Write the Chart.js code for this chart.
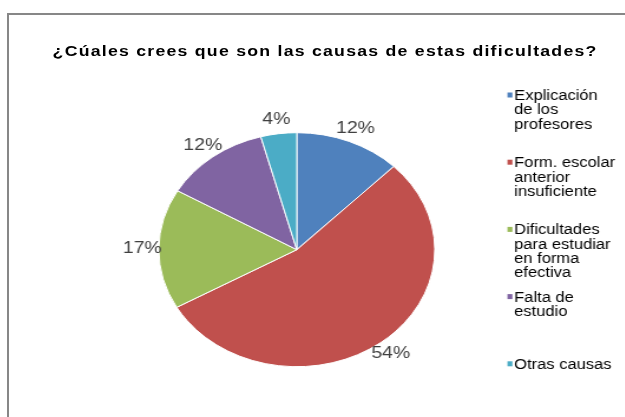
<!DOCTYPE html>
<html>
<head>
<meta charset="utf-8">
<script src="https://cdn.jsdelivr.net/npm/chart.js@4.4.1/dist/chart.umd.min.js"></script>
<style>
  html, body { margin: 0; padding: 0; width: 625px; height: 417px; overflow: hidden; background: #fff; }
  .frame { position: absolute; left: 7px; top: 13px; width: 700px; height: 500px; border: 2px solid #878787; }
  /* the reference is an Excel chart stretched sideways, so the whole drawing is stretched the same way */
  .stage { position: absolute; left: 9px; top: 15px; width: 536px; height: 402px; transform: scaleX(1.1795); transform-origin: 0 0; }
  .title { position: absolute; left: 0; top: 28px; width: 536px; text-align: center; white-space: nowrap;
           font: bold 15px "Liberation Sans", Arial, sans-serif; line-height: 15px; letter-spacing: 1.05px; color: #000; }
  canvas { position: absolute; left: 0; top: 0; }
</style>
</head>
<body>
<div class="frame"></div>
<div class="stage">
  <div class="title">¿Cúales crees que son las causas de estas dificultades?</div>
  <canvas id="chart" width="536" height="402"></canvas>
</div>
<script>
const categories = [
  ['Explicación', 'de los', 'profesores'],
  ['Form. escolar', 'anterior', 'insuficiente'],
  ['Dificultades', 'para estudiar', 'en forma', 'efectiva'],
  ['Falta de', 'estudio'],
  ['Otras causas']
]
const shares = [12.4, 54.4, 16.6, 12.4, 4.2]
const colors = ['#4F81BD', '#C0504D', '#9BBB59', '#8064A2', '#4BACC6']

// percent labels outside the slices + Excel style legend with wrapped entries
const excelParts = {
  id: 'excelParts',
  afterDatasetsDraw(chart, args, opts) {
    const ctx = chart.ctx
    const values = chart.data.datasets[0].data
    const total = values.reduce((a, b) => a + b, 0)
    ctx.save()
    ctx.font = '16.5px "Liberation Sans", Arial, sans-serif'
    ctx.fillStyle = '#404040'
    ctx.textAlign = 'center'
    ctx.textBaseline = 'middle'
    chart.getDatasetMeta(0).data.forEach((arc, i) => {
      const { x, y, startAngle, endAngle, outerRadius } =
        arc.getProps(['x', 'y', 'startAngle', 'endAngle', 'outerRadius'], true)
      const mid = (startAngle + endAngle) / 2
      const d = outerRadius + opts.gap
      ctx.fillText(Math.round(values[i] / total * 100) + '%', x + Math.cos(mid) * d, y + Math.sin(mid) * d)
    })
    ctx.restore()
  },
  afterDraw(chart, args, opts) {
    const ctx = chart.ctx
    const lg = opts.legend
    const bg = chart.data.datasets[0].backgroundColor
    ctx.save()
    ctx.font = '14px "Liberation Sans", Arial, sans-serif'
    ctx.textAlign = 'left'
    ctx.textBaseline = 'alphabetic'
    chart.data.labels.forEach((lines, i) => {
      const base = lg.top + i * lg.step
      ctx.fillStyle = bg[i]
      ctx.fillRect(lg.left, base - 7.5, lg.box, 5)
      ctx.fillStyle = '#000'
      lines.forEach((t, j) => ctx.fillText(t, lg.left + lg.box + 1.5, base + j * lg.lineStep))
    })
    ctx.restore()
  }
}

new Chart(document.getElementById('chart').getContext('2d'), {
  type: 'pie',
  data: {
    labels: categories,
    datasets: [{
      data: shares,
      backgroundColor: colors,
      borderColor: '#fff',
      borderWidth: 1
    }]
  },
  options: {
    responsive: false,
    animation: false,
    events: [],
    layout: { padding: { left: 0, right: 48, top: 117.2, bottom: 49.8 } },
    plugins: {
      legend: { display: false },
      tooltip: { enabled: false },
      excelParts: {
        gap: 14,
        legend: { left: 422.6, top: 85, step: 67.2, lineStep: 14.3, box: 4.2 }
      }
    }
  },
  plugins: [excelParts]
})
</script>
</body>
</html>
